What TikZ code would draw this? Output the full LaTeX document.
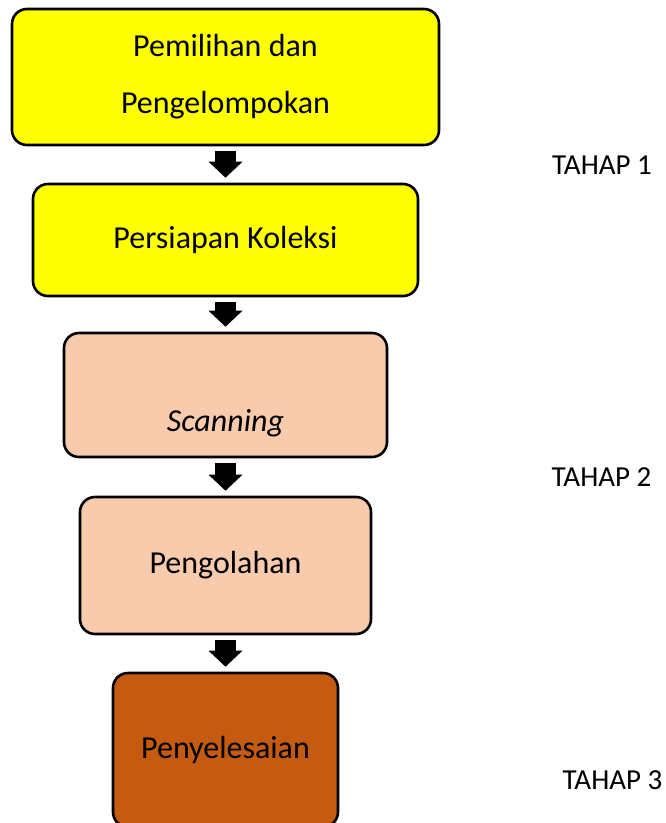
\documentclass[tikz,border=0pt]{standalone}
\usepackage{fontspec}
\setmainfont{Carlito}
\usetikzlibrary{arrows.meta}
\definecolor{kuning}{HTML}{FFFF00}
\definecolor{peach}{HTML}{F8CBAD}
\definecolor{coklat}{HTML}{C55A11}
\tikzset{
  tahapbox/.style={draw=black, line width=2.6pt, rounded corners=15pt, align=center,
    inner sep=0pt, font=\fontsize{32}{57}\selectfont},
  blockarrow/.style={line width=21pt, draw=black,
    -{Triangle[length=16pt 0, width=34pt 0, line width=0pt]},
    shorten <=5pt, shorten >=5pt},
  tahaplabel/.style={font=\fontsize{29}{35}\selectfont}
}
\begin{document}
\begin{tikzpicture}[x=1pt, y=-1pt]
  \useasboundingbox (0,0) rectangle (666,823);
  \node[tahapbox, fill=kuning, minimum width=427pt, minimum height=136pt] (pilih) at (225.5,77) {Pemilihan dan\\Pengelompokan};
  \node[tahapbox, fill=kuning, minimum width=385pt, minimum height=112pt] (siap) at (225.5,240) {Persiapan Koleksi};
  \node[tahapbox, fill=peach, minimum width=323pt, minimum height=124pt] (scan) at (225.5,395) {~\\[22pt]\textit{Scanning}};
  \node[tahapbox, fill=peach, minimum width=291pt, minimum height=137pt] (olah) at (225.5,565.5) {Pengolahan};
  \node[tahapbox, fill=coklat, minimum width=225pt, minimum height=154pt] (selesai) at (225.5,750) {Penyelesaian};

  \draw[blockarrow] (pilih) -- (siap);
  \draw[blockarrow] (siap) -- (scan);
  \draw[blockarrow] (scan) -- (olah);
  \draw[blockarrow] (olah) -- (selesai);

  \node[tahaplabel] (tahap1) at (602,165) {TAHAP 1};
  \node[tahaplabel] (tahap2) at (601.5,477) {TAHAP 2};
  \node[tahaplabel] (tahap3) at (612.5,780) {TAHAP 3};
\end{tikzpicture}
\end{document}
